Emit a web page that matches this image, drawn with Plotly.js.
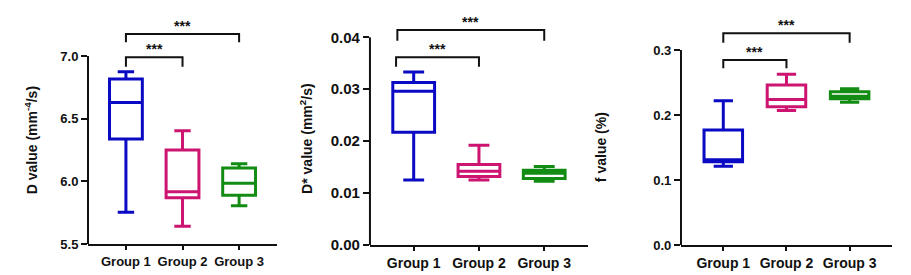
<!DOCTYPE html>
<html>
<head>
<meta charset="utf-8">
<script src="https://cdn.plot.ly/plotly-3.0.1.min.js"></script>
<style>html,body{margin:0;padding:0;background:#fff;}#chart{width:911px;height:275px;}</style>
</head>
<body>
<div id="chart"></div>
<script>
// ---- data ----
const groups = ['Group 1', 'Group 2', 'Group 3'];

// D value (mm^-4/s)
const dMin    = [5.753, 5.641, 5.805];
const dQ1     = [6.338, 5.869, 5.890];
const dMedian = [6.630, 5.917, 5.984];
const dQ3     = [6.816, 6.250, 6.106];
const dMax    = [6.875, 6.404, 6.140];

// D* value (mm^2/s)
const dsMin    = [0.0125, 0.0125, 0.0123];
const dsQ1     = [0.0217, 0.0132, 0.0128];
const dsMedian = [0.0296, 0.0142, 0.0138];
const dsQ3     = [0.0313, 0.0155, 0.0144];
const dsMax    = [0.0333, 0.0192, 0.0151];

// f value (%)
const fMin    = [0.121, 0.207, 0.2198];
const fQ1     = [0.128, 0.2126, 0.2249];
const fMedian = [0.131, 0.2238, 0.2290];
const fQ3     = [0.177, 0.2460, 0.2356];
const fMax    = [0.222, 0.2627, 0.2402];

const dTicks  = [5.5, 6.0, 6.5, 7.0];
const dsTicks = [0.00, 0.01, 0.02, 0.03, 0.04];
const fTicks  = [0.0, 0.1, 0.2, 0.3];
const sigLabel = '***';

// ---- styles ----
const colors = ['#0a0ac4', '#cc1470', '#138c13'];
const FONT = 'Liberation Sans, Arial, sans-serif';

const panels = [
  {ax: '', min: dMin, q1: dQ1, med: dMedian, q3: dQ3, max: dMax, widths: [0.58,0.58,0.58],
   ticks: dTicks, fmt: '.1f', range: [5.5, 7.3032], xdom: [0.0966, 0.3041], ydom: [0.1127, 0.9345],
   tickSize: 13, catSize: 13,
   brackets: [{a: 0, b: 1, y: 6.99, drop: 6.915}, {a: 0, b: 2, y: 7.176, drop: 7.109}]},
  {ax: '2', min: dsMin, q1: dsQ1, med: dsMedian, q3: dsQ3, max: dsMax, widths: [0.64,0.64,0.64],
   ticks: dsTicks, fmt: '.2f', range: [0, 0.04372], xdom: [0.4061, 0.6454], ydom: [0.1091, 0.9345],
   tickSize: 15, catSize: 14,
   brackets: [{a: -0.27, b: 1, y: 0.03615, drop: 0.03434}, {a: -0.25, b: 2, y: 0.0414, drop: 0.03935}]},
  {ax: '3', min: fMin, q1: fQ1, med: fMedian, q3: fQ3, max: fMax, widths: [0.61,0.61,0.61],
   ticks: fTicks, fmt: '.1f', range: [0, 0.34923], xdom: [0.7475, 0.9791], ydom: [0.1091, 0.9345],
   tickSize: 13, catSize: 14,
   brackets: [{a: 0, b: 1, y: 0.2846, drop: 0.2718}, {a: 0, b: 2, y: 0.3257, drop: 0.3112}]}
];

const traces = [];
const shapes = [];
const annotations = [];
const layout = {
  width: 911, height: 275,
  margin: {l: 0, r: 0, t: 0, b: 0},
  paper_bgcolor: '#fff', plot_bgcolor: 'rgba(0,0,0,0)',
  showlegend: false,
  boxmode: 'overlay',
  font: {family: FONT, color: '#111'}
};

panels.forEach(p => {
  const xa = 'x' + p.ax, ya = 'y' + p.ax;
  groups.forEach((g, i) => {
    traces.push({
      type: 'box', xaxis: xa, yaxis: ya,
      x: [g], q1: [p.q1[i]], median: [p.med[i]], q3: [p.q3[i]],
      lowerfence: [p.min[i]], upperfence: [p.max[i]],
      width: p.widths[i], whiskerwidth: 0.5, boxpoints: false,
      line: {color: colors[i], width: 3},
      fillcolor: 'rgba(0,0,0,0)', hoverinfo: 'skip'
    });
  });
  layout['xaxis' + p.ax] = {
    domain: p.xdom, anchor: ya, type: 'category', categoryarray: groups, categoryorder: 'array',
    range: [-0.67, 2.67], showline: true, linewidth: 2, linecolor: '#111',
    ticks: 'outside', ticklen: 4, tickwidth: 2, tickcolor: '#111',
    showgrid: false, zeroline: false, fixedrange: true,
    tickfont: {family: FONT, size: p.catSize, color: '#111', weight: 'bold'}
  };
  layout['yaxis' + p.ax] = {
    domain: p.ydom, anchor: xa, range: p.range, tickvals: p.ticks, tickformat: p.fmt,
    showline: false, ticks: 'outside', ticklen: 6, tickwidth: 2, tickcolor: '#111',
    showgrid: false, zeroline: false, fixedrange: true,
    tickfont: {family: FONT, size: p.tickSize, color: '#111', weight: 'bold'}
  };
  // custom y axis line (ends at top tick)
  shapes.push({type: 'line', xref: xa + ' domain', yref: ya, x0: 0, x1: 0,
    y0: p.ticks[0], y1: p.ticks[p.ticks.length - 1], line: {color: '#111', width: 2}});
  // significance brackets
  p.brackets.forEach(b => {
    shapes.push({type: 'path', xref: xa, yref: ya,
      path: `M ${b.a} ${b.drop} L ${b.a} ${b.y} L ${b.b} ${b.y} L ${b.b} ${b.drop}`,
      line: {color: '#111', width: 2}});
    annotations.push({xref: xa, yref: ya, x: (b.a + b.b) / 2, y: b.y, yanchor: 'bottom',
      text: sigLabel, showarrow: false, yshift: -2,
      font: {family: FONT, size: 14, color: '#111', weight: 'bold'}});
  });
});

// axis titles
const titleFont = {family: FONT, size: 14, color: '#111', weight: 'bold'};
annotations.push({xref: 'paper', yref: 'paper', x: 20/911, y: 0.49, textangle: -90, showarrow: false,
  text: 'D value (mm<sup>-4</sup>/s)', font: titleFont});
annotations.push({xref: 'paper', yref: 'paper', x: 295/911, y: 0.495, textangle: -90, showarrow: false,
  text: 'D* value (mm<sup>2</sup>/s)', font: titleFont});
annotations.push({xref: 'paper', yref: 'paper', x: 611/911, y: 0.465, textangle: -90, showarrow: false,
  text: 'f value (%)', font: titleFont});

layout.shapes = shapes;
layout.annotations = annotations;

Plotly.newPlot('chart', traces, layout, {displayModeBar: false, staticPlot: true});
</script>
</body>
</html>
